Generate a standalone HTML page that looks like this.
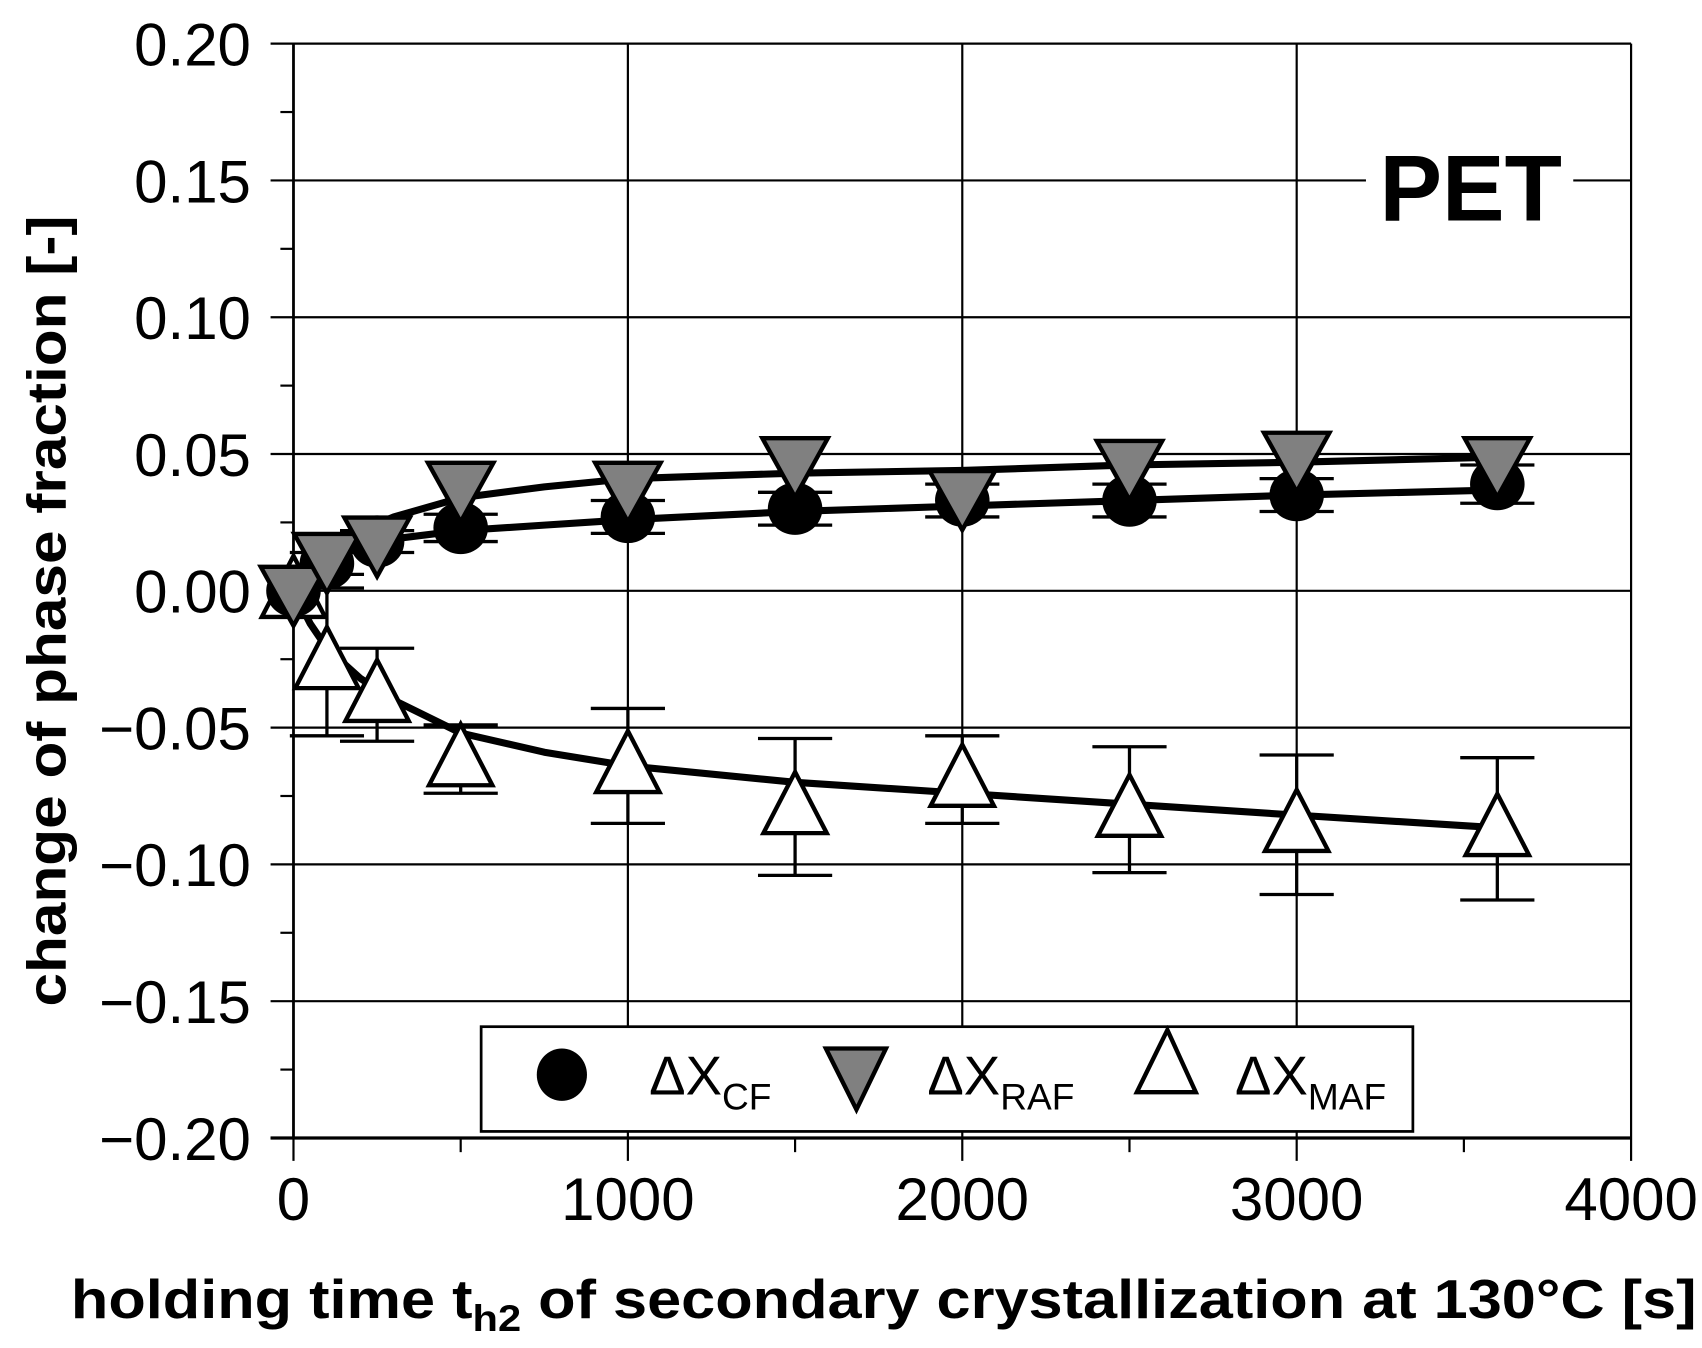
<!DOCTYPE html>
<html><head><meta charset="utf-8"><style>
html,body{margin:0;padding:0;background:#fff;}
svg{display:block;}
text{font-family:"Liberation Sans",Arial,sans-serif;}
</style></head><body>
<svg id="chart" width="1702" height="1348" viewBox="0 0 1560 1235.5" preserveAspectRatio="none" xmlns="http://www.w3.org/2000/svg">
<g id="grid"></g>
<g id="axes"></g>
<g id="fits"></g>
<g id="marks"></g>
<rect x="1252" y="130" width="190" height="80" fill="#fff"/>
<text x="1348" y="202" font-size="86" font-weight="bold" text-anchor="middle">PET</text>
<g>
<rect x="441" y="941" width="854" height="96" fill="#fff" stroke="#000" stroke-width="2.5"/>
<ellipse cx="515" cy="985" rx="23" ry="24" fill="#000"/>
<text x="595" y="1003" font-size="50">ΔX<tspan font-size="34" dy="14">CF</tspan></text>
<polygon points="757,961 812,961 785,1017" fill="#808080" stroke="#000" stroke-width="4"/>
<text x="850" y="1003" font-size="50">ΔX<tspan font-size="34" dy="14">RAF</tspan></text>
<polygon points="1070,944 1042,1001 1096,1001" fill="#fff" stroke="#000" stroke-width="4"/>
<text x="1132" y="1003" font-size="50">ΔX<tspan font-size="34" dy="14">MAF</tspan></text>
</g>
<text x="65" y="1208" font-size="50" font-weight="bold" textLength="1490" lengthAdjust="spacingAndGlyphs">holding time t<tspan font-size="34" dy="12">h2</tspan><tspan dy="-12"> of secondary crystallization at 130°C [s]</tspan></text>
<text transform="translate(60,560) rotate(-90)" font-size="50" font-weight="bold" text-anchor="middle" textLength="725" lengthAdjust="spacingAndGlyphs">change of phase fraction [-]</text>
</svg>
<script>
const times=[0,100,250,500,1000,1500,2000,2500,3000,3600];
const cfValues=[0,0.010,0.018,0.023,0.027,0.030,0.033,0.033,0.035,0.039];
const cfErr=[0,0.004,0.004,0.005,0.006,0.006,0.006,0.006,0.006,0.007];
const rafValues=[0,0.012,0.018,0.038,0.038,0.047,0.035,0.046,0.049,0.047];
const mafValues=[0,-0.026,-0.038,-0.0615,-0.064,-0.079,-0.069,-0.080,-0.0855,-0.087];
const mafErr=[0,0.027,0.017,0.0125,0.021,0.025,0.016,0.023,0.0255,0.026];
const fitTimes=[0,50,100,200,300,500,750,1000,1500,2000,2500,3000,3650];
const cfFit=[0,0.007,0.011,0.016,0.019,0.022,0.024,0.026,0.029,0.031,0.033,0.035,0.037];
const rafFit=[0,0.010,0.015,0.022,0.027,0.034,0.038,0.041,0.043,0.044,0.046,0.047,0.049];
const mafFit=[0,-0.012,-0.021,-0.032,-0.040,-0.052,-0.059,-0.064,-0.070,-0.074,-0.078,-0.082,-0.087];
const yTicks=[0.20,0.15,0.10,0.05,0.00,-0.05,-0.10,-0.15,-0.20];
const yTickLabels=["0.20","0.15","0.10","0.05","0.00","\u22120.05","\u22120.10","\u22120.15","\u22120.20"];
const xTicks=[0,1000,2000,3000,4000];
const xTickLabels=["0","1000","2000","3000","4000"];

const X0=269,X1=1495,YT=40,YB=1043;
const sx=v=>X0+(v-0)/(4000-0)*(X1-X0);
const sy=v=>YT+(0.20-v)/(0.40)*(YB-YT);
const NS="http://www.w3.org/2000/svg";
function mk(tag,attrs,parent){const e=document.createElementNS(NS,tag);for(const k in attrs)e.setAttribute(k,attrs[k]);parent.appendChild(e);return e;}
const grid=document.getElementById('grid'),axes=document.getElementById('axes'),fits=document.getElementById('fits'),marks=document.getElementById('marks');

yTicks.forEach((v,i)=>{
  const l=mk('line',{x1:248,x2:X1,y1:sy(v),y2:sy(v),stroke:'#000','stroke-width':2},grid);
  
  
  const t=mk('text',{x:230,y:sy(v)+20,'font-size':55,'text-anchor':'end'},axes);
  t.textContent=yTickLabels[i];
  
  
  if(i<yTicks.length-1){
    const m=mk('line',{x1:257,x2:X0,y1:sy(v-0.025),y2:sy(v-0.025),stroke:'#000','stroke-width':2},axes);
    
    
  }
});
xTicks.forEach((v,i)=>{
  const l=mk('line',{x1:sx(v),x2:sx(v),y1:YT,y2:1064,stroke:'#000','stroke-width':2},grid);
  
  
  const t=mk('text',{x:sx(v),y:1118,'font-size':55,'text-anchor':'middle'},axes);
  t.textContent=xTickLabels[i];
  
  
  if(i<xTicks.length-1){
    const m=mk('line',{x1:sx(v+500),x2:sx(v+500),y1:YB,y2:1056,stroke:'#000','stroke-width':2},axes);
    
    
  }
});
const xa=mk('line',{x1:248,x2:X1,y1:YB,y2:YB,stroke:'#000','stroke-width':3},axes);


const ya=mk('line',{x1:X0,x2:X0,y1:YT,y2:YB,stroke:'#000','stroke-width':2.5},axes);



[[cfFit,'fit-cf'],[rafFit,'fit-raf'],[mafFit,'fit-maf']].forEach(([arr,name])=>{
  const d=fitTimes.map((t,i)=>(i?'L':'M')+sx(t)+','+sy(arr[i])).join(' ');
  const p=mk('path',{d:d,fill:'none',stroke:'#000','stroke-width':6.5,'stroke-linejoin':'round'},fits);
  
  
});

function errbar(x,y,e,name){
  if(!e)return;
  const g=mk('g',{stroke:'#000','stroke-width':3},marks);
  
  
  mk('line',{x1:x,x2:x,y1:sy(y+e),y2:sy(y-e)},g);
  mk('line',{x1:x-34,x2:x+34,y1:sy(y+e),y2:sy(y+e)},g);
  mk('line',{x1:x-34,x2:x+34,y1:sy(y-e),y2:sy(y-e)},g);
}
times.forEach((t,i)=>{
  const x=sx(t);
  errbar(x,mafValues[i],mafErr[i],'maf-error-bar');
  const y=sy(mafValues[i]);
  const m=mk('polygon',{points:`${x},${y-32} ${x-29},${y+24} ${x+29},${y+24}`,fill:'#fff',stroke:'#000','stroke-width':4},marks);
  
  
});
times.forEach((t,i)=>{
  const x=sx(t);
  errbar(x,cfValues[i],cfErr[i],'cf-error-bar');
  const c=mk('ellipse',{cx:x,cy:sy(cfValues[i]),rx:25,ry:24,fill:'#000'},marks);
  
  
});
times.forEach((t,i)=>{
  const x=sx(t),y=sy(rafValues[i]);
  const m=mk('polygon',{points:`${x-30},${y-22} ${x+30},${y-22} ${x},${y+32}`,fill:'#808080',stroke:'#000','stroke-width':4},marks);
  
  
});
</script>
</body></html>
